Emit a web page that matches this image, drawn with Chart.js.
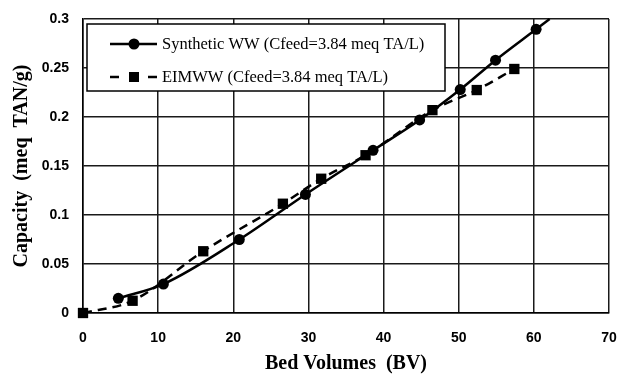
<!DOCTYPE html>
<html>
<head>
<meta charset="utf-8">
<script src="https://cdn.jsdelivr.net/npm/chart.js@4.4.1/dist/chart.umd.min.js"></script>
<style>
html,body{margin:0;padding:0;background:#fff;}
#wrap{width:619px;height:376px;position:relative;}
</style>
</head>
<body>
<div id="wrap"><canvas id="c" width="619" height="376"></canvas></div>
<script>
// Data
const synthX = [4.7, 10.7, 20.8, 29.6, 38.6, 44.8, 50.2, 54.9, 60.3];
const synthY = [0.015, 0.0295, 0.075, 0.121, 0.166, 0.197, 0.228, 0.258, 0.2895];
const eimX = [0, 6.6, 16.0, 26.6, 31.7, 37.6, 46.5, 52.4, 57.4];
const eimY = [0, 0.0125, 0.063, 0.1115, 0.137, 0.161, 0.207, 0.2275, 0.249];
const seriesNames = ["Synthetic WW (Cfeed=3.84 meq TA/L)", "EIMWW (Cfeed=3.84 meq TA/L)"];
const xTicks = [0, 10, 20, 30, 40, 50, 60, 70];
const yTicks = [0, 0.05, 0.1, 0.15, 0.2, 0.25, 0.3];

const toPts = (xs, ys) => xs.map((x, i) => ({x: x, y: ys[i]}));

// extend the synthetic trend line to the top of the plot (direction of last segment)
const extendPlugin = {
  id: 'extend',
  afterDatasetsDraw(chart) {
    const meta = chart.getDatasetMeta(0);
    const pts = meta.data;
    if (pts.length < 2) return;
    const a = pts[pts.length - 2], b = pts[pts.length - 1];
    const top = chart.chartArea.top;
    const t = (top - b.y) / (b.y - a.y);
    const ex = b.x + (b.x - a.x) * t;
    const ctx = chart.ctx;
    ctx.save();
    ctx.strokeStyle = '#000';
    ctx.lineWidth = 2.5;
    ctx.beginPath();
    ctx.moveTo(b.x, b.y);
    ctx.lineTo(ex, top);
    ctx.stroke();
    ctx.restore();
  }
};

const legendPlugin = {
  id: 'boxLegend',
  afterDraw(chart) {
    const ca = chart.chartArea;
    const ctx = chart.ctx;
    const L = ca.left + 4, T = ca.top + 5, W = 358, H = 67;
    ctx.save();
    ctx.fillStyle = '#fff';
    ctx.fillRect(L, T, W, H);
    ctx.strokeStyle = '#000';
    ctx.lineWidth = 1.5;
    ctx.strokeRect(L, T, W, H);
    ctx.fillStyle = '#000';
    ctx.font = '16.5px "Liberation Serif", "Times New Roman", serif';
    ctx.textBaseline = 'middle';
    // entry 1
    let y1 = T + 20;
    ctx.lineWidth = 2.5;
    ctx.beginPath(); ctx.moveTo(L + 23, y1); ctx.lineTo(L + 70, y1); ctx.stroke();
    ctx.beginPath(); ctx.arc(L + 47, y1, 5.5, 0, Math.PI * 2); ctx.fill();
    ctx.fillText(seriesNames[0], L + 75, y1 + 1);
    // entry 2
    let y2 = T + 53;
    ctx.beginPath(); ctx.moveTo(L + 23, y2); ctx.lineTo(L + 32, y2); ctx.stroke();
    ctx.beginPath(); ctx.moveTo(L + 61, y2); ctx.lineTo(L + 70, y2); ctx.stroke();
    ctx.fillRect(L + 42, y2 - 5, 10, 10);
    ctx.fillText(seriesNames[1], L + 75, y2 + 1);
    ctx.restore();
  }
};

new Chart(document.getElementById('c'), {
  type: 'line',
  data: {
    datasets: [
      {
        label: seriesNames[0],
        data: toPts(synthX, synthY),
        borderColor: '#000', backgroundColor: '#000',
        borderWidth: 2.5,
        pointStyle: 'circle', pointRadius: 5.5, pointBorderWidth: 0,
        cubicInterpolationMode: 'monotone',
        clip: false
      },
      {
        label: seriesNames[1],
        data: toPts(eimX, eimY),
        borderColor: '#000', backgroundColor: '#000',
        borderWidth: 2.5, borderDash: [9, 6],
        pointStyle: 'rect', pointRadius: 7.3, pointBorderWidth: 0,
        cubicInterpolationMode: 'monotone',
        clip: false
      }
    ]
  },
  options: {
    responsive: false,
    animation: false,
    events: [],
    layout: {padding: {top: 19, right: 10, left: 0, bottom: 0}},
    plugins: {legend: {display: false}, tooltip: {enabled: false}},
    scales: {
      x: {
        type: 'linear', min: 0, max: 70,
        afterBuildTicks: (s) => { s.ticks = xTicks.map(v => ({value: v})); },
        afterFit: (s) => { s.height = 63; s.paddingLeft = 0; s.paddingRight = 0; },
        grid: {color: '#1a1a1a', lineWidth: 1.5, drawTicks: false},
        border: {display: true, color: '#000', width: 1.5},
        ticks: {color: '#000', padding: 17, font: {family: '"Liberation Sans", Arial, sans-serif', size: 14, weight: 'bold'}},
        title: {display: true, text: 'Bed Volumes  (BV)', color: '#000', padding: {top: 4, bottom: 0},
          font: {family: '"Liberation Serif", "Times New Roman", serif', size: 20, weight: 'bold'}}
      },
      y: {
        type: 'linear', min: 0, max: 0.3,
        afterBuildTicks: (s) => { s.ticks = yTicks.map(v => ({value: v})); },
        afterFit: (s) => { s.width = 83; s.paddingTop = 0; s.paddingBottom = 0; },
        grid: {color: '#1a1a1a', lineWidth: 1.5, drawTicks: false},
        border: {display: true, color: '#000', width: 1.5},
        ticks: {color: '#000', padding: 14, callback: (v) => String(v),
          font: {family: '"Liberation Sans", Arial, sans-serif', size: 14, weight: 'bold'}},
        title: {display: true, text: 'Capacity  (meq  TAN/g)', color: '#000', padding: {top: 10, bottom: 0},
          font: {family: '"Liberation Serif", "Times New Roman", serif', size: 20, weight: 'bold'}}
      }
    }
  },
  plugins: [extendPlugin, legendPlugin]
});
</script>
</body>
</html>
